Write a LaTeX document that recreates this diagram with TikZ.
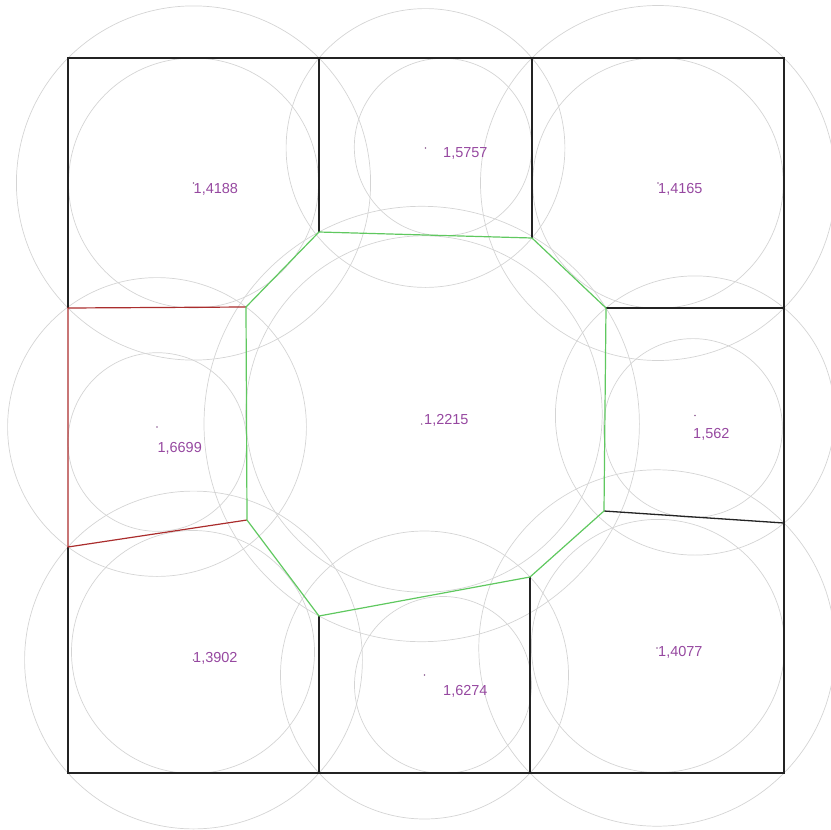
\documentclass[tikz,border=0pt]{standalone}
\usepackage{fontspec}
\setmainfont{Liberation Sans}
\definecolor{ringgray}{RGB}{212,212,212}
\definecolor{edgeblack}{RGB}{35,35,35}
\definecolor{octgreen}{RGB}{95,200,95}
\definecolor{cellred}{RGB}{170,45,45}
\definecolor{labpurple}{RGB}{150,72,160}
\tikzset{
  ring/.style={draw=ringgray, line width=0.7pt},
  vor/.style={draw=edgeblack, line width=1.3pt},
  octl/.style={draw=octgreen, line width=1.2pt},
  redl/.style={draw=cellred, line width=1.2pt},
  lab/.style={anchor=north west, inner sep=0pt, text=labpurple, font=\fontsize{14.5}{14.5}\selectfont},
  ctr/.style={fill=labpurple!60!gray, draw=none}
}
\begin{document}
\begin{tikzpicture}[x=1pt,y=-1pt]
\useasboundingbox (0,0) rectangle (831,830);
% ---- vertices
\coordinate (TL) at (68,58);
\coordinate (T1) at (319,58);
\coordinate (T2) at (532,58);
\coordinate (TR) at (784,58);
\coordinate (R1) at (784,308);
\coordinate (R2) at (784,523);
\coordinate (BR) at (784,773);
\coordinate (B2) at (530,773);
\coordinate (B1) at (319,773);
\coordinate (BL) at (68,773);
\coordinate (L2) at (68,547);
\coordinate (L1) at (68,308);
% octagon
\coordinate (O1) at (319,232);
\coordinate (O2) at (532,238);
\coordinate (O3) at (606,308);
\coordinate (O4) at (604,511);
\coordinate (O5) at (530,577);
\coordinate (O6) at (319,616);
\coordinate (O7) at (247,520);
\coordinate (O8) at (246,307);
% ---- circles (inscribed and enclosing)
\draw[ring] (193.5,183) circle[radius=125pt];
\draw[ring] (193.5,183) circle[radius=177.1pt];
\draw[ring] (443,147) circle[radius=88.7pt];
\draw[ring] (425.5,148) circle[radius=139.4pt];
\draw[ring] (658,183) circle[radius=125.3pt];
\draw[ring] (658,183) circle[radius=177.5pt];
\draw[ring] (157.3,442) circle[radius=89.3pt];
\draw[ring] (157,427) circle[radius=149.4pt];
\draw[ring] (424,414) circle[radius=178.2pt];
\draw[ring] (421.7,424) circle[radius=217.7pt];
\draw[ring] (693,428) circle[radius=89.4pt];
\draw[ring] (695,415.5) circle[radius=139.6pt];
\draw[ring] (193,652) circle[radius=121.5pt];
\draw[ring] (193.5,660) circle[radius=168.9pt];
\draw[ring] (443,685) circle[radius=88.5pt];
\draw[ring] (424.5,675) circle[radius=144pt];
\draw[ring] (658,646) circle[radius=126.6pt];
\draw[ring] (657,648) circle[radius=178.2pt];
% ---- cell edges
\draw[vor] (L1) -- (TL) -- (T1) -- (T2) -- (TR) -- (R1) -- (R2) -- (BR) -- (B2) -- (B1) -- (BL) -- (L2);
\draw[vor] (T1) -- (O1);
\draw[vor] (T2) -- (O2);
\draw[vor] (O3) -- (R1);
\draw[vor] (O4) -- (R2);
\draw[vor] (O5) -- (B2);
\draw[vor] (O6) -- (B1);
\draw[redl] (O8) -- (L1) -- (L2) -- (O7);
\draw[octl] (O1) -- (O2) -- (O3) -- (O4) -- (O5) -- (O6) -- (O7) -- (O8) -- cycle;
% ---- centre marks
\foreach \p in {(193.5,183),(425.5,148),(658,183),(157,427),(421.7,424),(695,415.5),(193.5,660),(424.5,675),(657,648)}
  \fill[ctr] \p circle[radius=0.8pt];
% ---- labels
\node[lab] (l1) at (193.5,183) {1,4188};
\node[lab] (l2) at (443,147) {1,5757};
\node[lab] (l3) at (658,183) {1,4165};
\node[lab] (l4) at (157.3,442) {1,6699};
\node[lab] (l5) at (424,414) {1,2215};
\node[lab] (l6) at (693,428) {1,562};
\node[lab] (l7) at (193,652) {1,3902};
\node[lab] (l8) at (443,685) {1,6274};
\node[lab] (l9) at (658,646) {1,4077};
\end{tikzpicture}
\end{document}
